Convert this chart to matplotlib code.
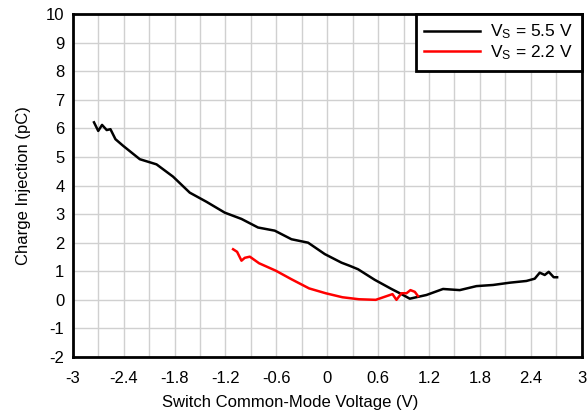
import matplotlib
matplotlib.use("Agg")
import matplotlib.pyplot as plt
from matplotlib.ticker import MultipleLocator

plt.rcParams['font.family'] = ['Liberation Sans', 'DejaVu Sans']
plt.rcParams['mathtext.fontset'] = 'custom'
plt.rcParams['mathtext.rm'] = 'Liberation Sans'
plt.rcParams['mathtext.it'] = 'Liberation Sans'
plt.rcParams['axes.unicode_minus'] = False

# Charge injection vs. common-mode voltage
vcm_55 = [-2.75, -2.70, -2.655, -2.60, -2.556, -2.497, -2.407, -2.21, -2.013,
          -1.818, -1.621, -1.424, -1.208, -1.011, -0.816, -0.619, -0.422,
          -0.226, -0.029, 0.168, 0.265, 0.363, 0.56, 0.757, 0.875, 0.973,
          1.17, 1.365, 1.562, 1.759, 1.955, 2.152, 2.348, 2.446, 2.505,
          2.564, 2.611, 2.67, 2.71]
q_55 = [6.21, 5.91, 6.12, 5.94, 5.97, 5.62, 5.39, 4.92, 4.74,
        4.31, 3.75, 3.43, 3.05, 2.83, 2.53, 2.42, 2.12,
        2.0, 1.60, 1.30, 1.19, 1.07, 0.70, 0.38, 0.20, 0.04,
        0.17, 0.38, 0.34, 0.48, 0.52, 0.60, 0.66, 0.74, 0.95,
        0.87, 0.98, 0.79, 0.79]

vcm_22 = [-1.11, -1.063, -1.011, -0.972, -0.913, -0.804, -0.607, -0.422,
          -0.214, -0.018, 0.179, 0.375, 0.572, 0.769, 0.816, 0.875, 0.934,
          0.981, 1.032, 1.07]
q_22 = [1.77, 1.68, 1.37, 1.47, 1.51, 1.28, 1.02, 0.72,
        0.40, 0.23, 0.09, 0.02, 0.0, 0.20, 0.0, 0.23, 0.23,
        0.34, 0.28, 0.13]

x_ticks = [-3, -2.4, -1.8, -1.2, -0.6, 0, 0.6, 1.2, 1.8, 2.4, 3]
x_labels = ['-3', '-2.4', '-1.8', '-1.2', '-0.6', '0', '0.6', '1.2', '1.8', '2.4', '3']

fig = plt.figure(figsize=(5.87, 4.12), dpi=100)
ax = fig.add_axes([0.124, 0.1335, 0.867, 0.8325])

ax.plot(vcm_55, q_55, color='black', lw=1.8, label=r'V$_{\mathrm{S}}$ = 5.5 V')
ax.plot(vcm_22, q_22, color='#ff0000', lw=1.8, label=r'V$_{\mathrm{S}}$ = 2.2 V')

ax.set_xlim(-3, 3)
ax.set_ylim(-2, 10)
ax.set_xticks(x_ticks)
ax.set_xticklabels(x_labels)
ax.xaxis.set_minor_locator(MultipleLocator(0.3))
ax.yaxis.set_major_locator(MultipleLocator(1))
ax.grid(which='both', axis='x', color='#d0d0d0', lw=1)
ax.grid(which='major', axis='y', color='#d0d0d0', lw=1)
ax.set_axisbelow(True)
ax.tick_params(which='both', length=0, labelsize=12)
ax.tick_params(axis='x', pad=10)
ax.tick_params(axis='y', pad=6)

for s in ax.spines.values():
    s.set_linewidth(2)

ax.set_xlabel('Switch Common-Mode Voltage (V)', fontsize=12)
ax.xaxis.set_label_coords(0.427, -0.112)
ax.set_ylabel('Charge Injection (pC)', fontsize=12, labelpad=11)

leg = ax.legend(loc='upper right', fontsize=12.5, fancybox=False, framealpha=1,
                edgecolor='black', borderaxespad=0, handlelength=3.2,
                handletextpad=0.6, labelspacing=0.1, borderpad=0.5)
leg.get_frame().set_linewidth(2)

fig.savefig('out.png', dpi=100)
